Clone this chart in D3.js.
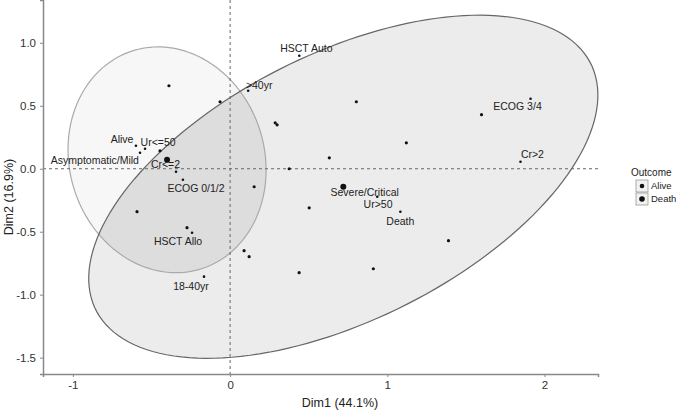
<!DOCTYPE html>
<html>
<head>
<meta charset="utf-8">
<script src="https://cdn.jsdelivr.net/npm/d3@7"></script>
<style>
  body { margin: 0; background: white; }
  text { font-family: "Liberation Sans", Arial, sans-serif; }
</style>
</head>
<body>
<script>
// MCA biplot: individuals, variable categories, outcome groups

var xTicks = [-1, 0, 1, 2]
var yTicks = [-1.5, -1.0, -0.5, 0.0, 0.5, 1.0]

// individuals (unlabelled dots)
var indX = [-0.389, -0.064, 0.287, 0.299, 0.631, 0.376, 0.153, -0.446, -0.592, -0.274,
            0.089, 0.121, 0.439, 0.503, 0.803, 1.121, 1.599, 1.389, 0.911]
var indY = [0.659, 0.532, 0.365, 0.349, 0.087, 0.0, -0.143, 0.143, -0.341, -0.468,
            -0.651, -0.698, -0.825, -0.310, 0.532, 0.206, 0.429, -0.571, -0.794]

// variable categories
var catNames = ["HSCT Auto", ">40yr", "Alive", "Ur<=50", "Asymptomatic/Mild", "Cr<=2",
                "ECOG 0/1/2", "HSCT Allo", "18-40yr", "ECOG 3/4", "Cr>2",
                "Severe/Critical", "Ur>50", "Death"]
var catX = [0.44, 0.115, -0.599, -0.541, -0.573, -0.344, -0.30, -0.242, -0.166, 1.911, 1.847, 0.72, 0.936, 1.083]
var catY = [0.897, 0.619, 0.183, 0.159, 0.127, -0.024, -0.087, -0.508, -0.857, 0.556, 0.056, -0.143, -0.222, -0.341]
// where the repelled label sits (data units)
var labX = [0.485, 0.185, -0.687, -0.458, -0.860, -0.411, -0.217, -0.331, -0.249, 1.828, 1.923, 0.856, 0.941, 1.083]
var labY = [0.955, 0.665, 0.237, 0.213, 0.063, 0.039, -0.158, -0.575, -0.932, 0.492, 0.118, -0.184, -0.279, -0.421]

// outcome groups: mean point and confidence ellipse
var groups = ["Alive", "Death"]
var groupX = [-0.401, 0.720]
var groupY = [0.071, -0.143]
var ellA = [0.90, 1.865]
var ellB = [0.625, 1.0]
var ellAngle = [97, 36]

var W = 676, H = 412
var x = d3.scaleLinear().domain([-1.19, 2.34]).range([43, 598])
var y = d3.scaleLinear().domain([-1.63, 1.34]).range([374, 0])

var svg = d3.select("body").append("svg")
    .attr("width", W)
    .attr("height", H)

function ellipse(i) {
    var pts = []
    var th = ellAngle[i] * Math.PI / 180
    for (var k = 0; k < 160; k++) {
        var t = k / 160 * 2 * Math.PI
        var u = ellA[i] * Math.cos(t), v = ellB[i] * Math.sin(t)
        pts.push([groupX[i] + u * Math.cos(th) - v * Math.sin(th),
                  groupY[i] + u * Math.sin(th) + v * Math.cos(th)])
    }
    return pts
}

var line = d3.line()
    .x(d => x(d[0]))
    .y(d => y(d[1]))
    .curve(d3.curveLinearClosed)

svg.append("clipPath").attr("id", "clipDeath")
    .append("path").attr("d", line(ellipse(1)))

// fills
svg.append("path").attr("d", line(ellipse(0))).attr("fill", "#f7f7f7")
svg.append("path").attr("d", line(ellipse(1))).attr("fill", "#ececec")
svg.append("path").attr("d", line(ellipse(0))).attr("fill", "#dddddd")
    .attr("clip-path", "url(#clipDeath)")

// outlines
svg.append("path").attr("d", line(ellipse(0)))
    .attr("fill", "none").attr("stroke", "#aaaaaa").attr("stroke-width", 1.2)
svg.append("path").attr("d", line(ellipse(1)))
    .attr("fill", "none").attr("stroke", "#666666").attr("stroke-width", 1.2)

// zero lines
svg.append("line")
    .attr("x1", x(0)).attr("x2", x(0)).attr("y1", 0).attr("y2", 374)
    .attr("stroke", "#666").attr("stroke-dasharray", "3,3")
svg.append("line")
    .attr("x1", 43).attr("x2", 598).attr("y1", y(0)).attr("y2", y(0))
    .attr("stroke", "#666").attr("stroke-dasharray", "3,3")

// axes
var xAxis = svg.append("g").attr("transform", "translate(0,374)")
    .call(d3.axisBottom(x).tickValues(xTicks).tickFormat(d3.format("d")).tickSize(3).tickPadding(4))
var yAxis = svg.append("g").attr("transform", "translate(43,0)")
    .call(d3.axisLeft(y).tickValues(yTicks).tickFormat(d3.format(".1f")).tickSize(3).tickPadding(4))
;[xAxis, yAxis].forEach(function(g) {
    g.select(".domain").attr("stroke", "#888").attr("stroke-width", 1.5)
    g.selectAll(".tick line").attr("stroke", "#888")
    g.selectAll(".tick text").attr("fill", "#333").style("font-size", "11.5px")
        .style("font-family", "Liberation Sans, Arial, sans-serif")
})
xAxis.selectAll(".tick text").text(d => d3.format("d")(d).replace("-", "-"))
yAxis.selectAll(".tick text").text(d => d3.format(".1f")(d).replace("−", "-"))
xAxis.selectAll(".tick text").text(d => String(d))

svg.append("text")
    .attr("x", 340).attr("y", 407)
    .attr("text-anchor", "middle")
    .attr("font-size", 12.5).attr("fill", "#222")
    .text("Dim1 (44.1%)")
svg.append("text")
    .attr("transform", "translate(13,197) rotate(-90)")
    .attr("text-anchor", "middle")
    .attr("font-size", 12.5).attr("fill", "#222")
    .text("Dim2 (16.9%)")

// individuals
svg.selectAll(".ind")
    .data(indX)
    .enter()
    .append("circle")
    .classed("ind", true)
    .attr("cx", d => x(d))
    .attr("cy", (d, i) => y(indY[i]))
    .attr("r", 1.6)
    .attr("fill", "#111")

// categories
svg.selectAll(".cat")
    .data(catNames)
    .enter()
    .append("circle")
    .classed("cat", true)
    .attr("cx", (d, i) => x(catX[i]))
    .attr("cy", (d, i) => y(catY[i]))
    .attr("r", 1.3)
    .attr("fill", "#111")

svg.selectAll(".catlab")
    .data(catNames)
    .enter()
    .append("text")
    .classed("catlab", true)
    .attr("x", (d, i) => x(labX[i]))
    .attr("y", (d, i) => y(labY[i]))
    .attr("dy", "0.35em")
    .attr("text-anchor", "middle")
    .attr("font-size", 10.5)
    .attr("fill", "#222")
    .text(d => d)

// group means
svg.selectAll(".mean")
    .data(groups)
    .enter()
    .append("circle")
    .classed("mean", true)
    .attr("cx", (d, i) => x(groupX[i]))
    .attr("cy", (d, i) => y(groupY[i]))
    .attr("r", 3)
    .attr("fill", "#111")

// legend
var leg = svg.append("g").attr("transform", "translate(631,0)")
leg.append("text").attr("x", 0).attr("y", 176)
    .attr("font-size", 10).attr("fill", "#222").text("Outcome")
groups.forEach(function(g, i) {
    var yy = 180 + i * 13
    leg.append("rect").attr("x", 5).attr("y", yy).attr("width", 12).attr("height", 12)
        .attr("fill", "#f2f2f2").attr("stroke", "#999").attr("stroke-width", 0.8)
    leg.append("circle").attr("cx", 11).attr("cy", yy + 6).attr("r", i === 0 ? 2.3 : 2.8)
        .attr("fill", "#111")
    leg.append("text").attr("x", 20).attr("y", yy + 6).attr("dy", "0.35em")
        .attr("font-size", 9.5).attr("fill", "#222").text(g)
})
</script>
</body>
</html>
